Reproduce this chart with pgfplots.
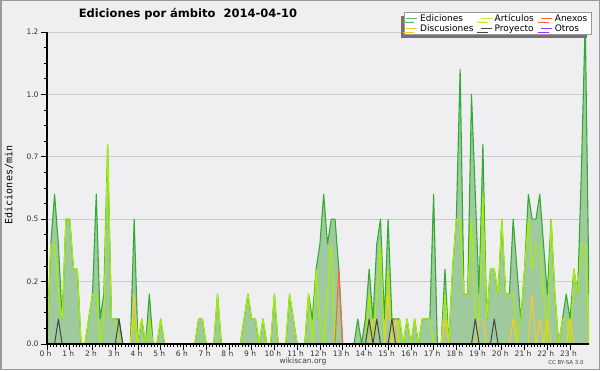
\documentclass[border=0pt]{standalone}
\usepackage{fontspec}
\setmainfont{DejaVu Sans}
\newfontfamily\monofont{DejaVu Sans Mono}
\usepackage{pgfplots}
\usepackage{pgfplotstable}
\pgfplotsset{compat=1.18}
\usetikzlibrary{shadows}
\definecolor{bgc}{RGB}{239,239,241}
\definecolor{fillc}{RGB}{158,202,158}
\definecolor{edc}{RGB}{51,170,51}
\definecolor{artc}{RGB}{170,238,0}
\definecolor{discc}{RGB}{255,200,40}
\definecolor{proyc}{RGB}{68,68,68}
\definecolor{anxc}{RGB}{255,102,51}
\definecolor{otrc}{RGB}{153,51,255}
\pgfplotstableread{
k ed art anx disc proy
0 0 0 0 0 0
1 0.4 0.4 0 0 0
2 0.6 0.4 0 0 0
3 0.4 0.2 0 0 0.1
4 0.1 0.1 0 0 0
5 0.5 0.5 0 0 0
6 0.5 0.5 0 0 0
7 0.3 0.3 0 0 0
8 0.3 0.3 0 0 0
9 0 0 0 0 0
10 0 0 0 0 0
11 0.1 0.1 0 0 0
12 0.2 0.2 0 0 0
13 0.6 0.2 0 0 0
14 0.1 0 0 0 0
15 0.2 0.1 0 0 0
16 0.8 0.8 0 0 0
17 0.1 0.1 0 0 0
18 0.1 0.1 0 0 0
19 0.1 0 0 0 0.1
20 0 0 0 0 0
21 0 0 0 0 0
22 0 0 0 0 0
23 0.5 0.1 0 0.2 0
24 0 0 0 0 0
25 0.1 0.1 0 0 0
26 0 0 0 0 0
27 0.2 0.1 0 0 0
28 0 0 0 0 0
29 0 0 0 0 0
30 0.1 0.1 0 0 0
31 0 0 0 0 0
32 0 0 0 0 0
33 0 0 0 0 0
34 0 0 0 0 0
35 0 0 0 0 0
36 0 0 0 0 0
37 0 0 0 0 0
38 0 0 0 0 0
39 0 0 0 0 0
40 0.1 0.1 0 0 0
41 0.1 0.1 0 0 0
42 0 0 0 0 0
43 0 0 0 0 0
44 0 0 0 0 0
45 0.2 0.2 0 0 0
46 0 0 0 0 0
47 0 0 0 0 0
48 0 0 0 0 0
49 0 0 0 0 0
50 0 0 0 0 0
51 0 0 0 0 0
52 0.1 0.1 0 0 0
53 0.2 0.2 0 0 0
54 0.1 0.1 0 0 0
55 0.1 0.1 0 0 0
56 0 0 0 0 0
57 0.1 0.1 0 0 0
58 0 0 0 0 0
59 0 0 0 0 0
60 0.2 0.2 0 0 0
61 0 0 0 0 0
62 0 0 0 0 0
63 0 0 0 0 0
64 0.2 0.2 0 0 0
65 0.1 0.1 0 0 0
66 0 0 0 0 0
67 0 0 0 0 0
68 0 0 0 0 0
69 0.2 0.2 0 0 0
70 0.1 0 0 0 0
71 0.3 0.3 0 0 0
72 0.4 0.1 0 0 0
73 0.6 0 0 0 0
74 0.4 0.2 0 0 0
75 0.5 0.4 0 0 0
76 0.5 0 0 0 0
77 0.3 0 0.3 0 0
78 0 0 0 0 0
79 0 0 0 0 0
80 0 0 0 0 0
81 0 0 0 0 0
82 0.1 0 0 0 0
83 0 0 0 0 0
84 0.1 0 0 0 0
85 0.3 0.2 0 0 0.1
86 0.1 0 0 0.1 0
87 0.4 0.2 0 0.1 0.1
88 0.5 0.4 0 0 0
89 0.1 0 0 0 0
90 0.5 0.3 0 0.2 0
91 0.1 0 0 0 0.1
92 0.1 0 0 0.1 0
93 0.1 0.1 0 0 0
94 0 0 0 0 0
95 0.1 0.1 0 0 0
96 0 0 0 0 0
97 0.1 0.1 0 0 0
98 0 0 0 0 0
99 0.1 0.1 0 0 0
100 0.1 0.1 0 0 0
101 0.1 0.1 0 0 0
102 0.6 0 0 0 0
103 0 0 0 0 0
104 0 0 0 0 0
105 0.3 0.2 0 0.1 0
106 0 0 0 0 0
107 0.3 0.3 0 0 0
108 0.5 0.5 0 0 0
109 1.1 0.5 0 0 0
110 0.2 0.2 0 0 0
111 0.2 0.2 0 0 0
112 1.0 0.5 0 0 0
113 0.6 0.1 0 0 0.1
114 0.2 0.1 0 0.1 0
115 0.8 0.6 0 0.1 0
116 0.1 0.1 0 0 0
117 0.3 0.3 0 0 0
118 0.3 0.3 0 0 0.1
119 0.2 0.2 0 0 0
120 0.5 0.5 0 0 0
121 0.2 0.2 0 0 0
122 0.2 0.2 0 0 0
123 0.5 0.2 0 0.1 0
124 0.3 0 0 0 0
125 0.1 0.1 0 0 0
126 0.3 0.3 0 0 0
127 0.6 0.5 0 0 0
128 0.5 0.3 0 0.2 0
129 0.5 0.4 0 0 0
130 0.6 0.4 0 0.1 0
131 0.4 0.2 0 0 0
132 0.2 0 0 0.1 0
133 0.5 0.5 0 0 0
134 0.2 0.2 0 0 0
135 0 0 0 0 0
136 0.1 0.1 0 0 0
137 0.2 0.1 0 0 0
138 0.1 0 0 0.1 0
139 0.3 0.3 0 0 0
140 0.2 0.2 0 0 0
141 0.7 0.4 0 0 0
142 1.3 0.4 0 0 0
143 0.2 0 0 0 0
}\data
\pgfplotsset{
  base/.style={
    at={(47pt,26pt)}, anchor=south west,
    width=542pt, height=312pt, scale only axis,
    xmin=0, xmax=143, ymin=0, ymax=1.25,
  }
}
\begin{document}
\begin{tikzpicture}[x=1pt,y=1pt]
\path[use as bounding box] (0,0) rectangle (600,370);
\fill[bgc] (0,0) rectangle (600,370);
\draw[black!40, line width=1.5pt] (0.75,0.75) rectangle (599.25,369.25);
% data axis: grid below the plots
\begin{axis}[
  base,
  axis line style={draw=none},
  xtick=\empty,
  ytick={0,0.25,0.5,0.75,1,1.25},
  yticklabels={},
  tick style={draw=none},
  ymajorgrids, grid style={black!20, line width=0.8pt},
]
\addplot[draw=none, fill=fillc] table[x=k, y=ed] {\data} \closedcycle;
\addplot[edc, line width=1.1pt, line join=round] table[x=k, y=ed] {\data};
\addplot[artc, line width=1.1pt, line join=round] table[x=k, y=art] {\data};
\addplot[anxc, line width=1pt, line join=round] table[x=k, y=anx] {\data};
\addplot[discc, line width=1pt, line join=round] table[x=k, y=disc] {\data};
\addplot[proyc, line width=1pt, line join=round] table[x=k, y=proy] {\data};
\end{axis}
% frame axis: axis lines, ticks, labels and legend on top
\begin{axis}[
  base,
  axis x line*=bottom, axis y line*=left,
  axis line style={black, line width=1.2pt, -},
  xtick={0,6,...,138},
  xticklabels={0 h,1 h,2 h,3 h,4 h,5 h,6 h,7 h,8 h,9 h,10 h,11 h,12 h,13 h,14 h,15 h,16 h,17 h,18 h,19 h,20 h,21 h,22 h,23 h},
  minor x tick num=6,
  ytick={0,0.25,0.5,0.75,1,1.25},
  yticklabels={0.0,0.2,0.5,0.7,1.0,1.2},
  minor y tick num=3,
  tick align=outside,
  major tick length=6pt, minor tick length=3pt,
  tick style={black, line width=0.7pt},
  ticklabel style={font=\fontsize{7.5}{8}\selectfont, text=black!80},
  xticklabel style={yshift=3pt, xshift=-1.5pt},
  yticklabel style={xshift=1pt},
  legend columns=3,
  legend cell align=left,
  legend style={at={(0.6587,1.063)}, anchor=north west, draw=black!40, fill=white,
    font=\fontsize{9}{9.5}\selectfont, inner xsep=1.5pt, inner ysep=1pt, row sep=0.5pt,
    drop shadow={shadow xshift=-3.5pt, shadow yshift=-3.5pt, fill=black!55, opacity=1},
    /tikz/every even column/.append style={column sep=4.5pt},
    /tikz/every node/.append style={inner ysep=0.6pt}},
  legend image code/.code={\draw[line width=1.5pt, #1] (0pt,0pt) -- (11pt,0pt);},
]
\addlegendimage{color=edc!80}\addlegendentry{Ediciones}
\addlegendimage{color=artc!85}\addlegendentry{Artículos}
\addlegendimage{color=anxc}\addlegendentry{Anexos}
\addlegendimage{color=discc}\addlegendentry{Discusiones}
\addlegendimage{color=proyc}\addlegendentry{Proyecto}
\addlegendimage{color=otrc}\addlegendentry{Otros}
\end{axis}
\node[font=\bfseries\fontsize{11.5}{13}\selectfont] at (188,356) {Ediciones por ámbito\ \ 2014-04-10};
\node[rotate=90, font=\monofont\fontsize{10}{11}\selectfont] at (9,185) {Ediciones/min};
\node[font=\fontsize{7.5}{8}\selectfont, text=black!75] at (303,9) {wikiscan.org};
\node[font=\fontsize{5.5}{6}\selectfont, text=black!75] at (566,8) {CC BY-SA 3.0};
\end{tikzpicture}
\end{document}
